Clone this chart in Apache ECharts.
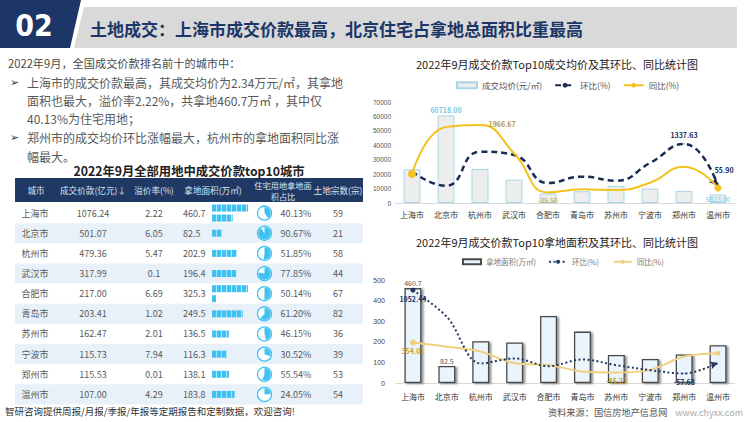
<!DOCTYPE html>
<html><head><meta charset="utf-8">
<script src="https://cdn.jsdelivr.net/npm/echarts/dist/echarts.min.js"></script>
<style>html,body{margin:0;padding:0;background:#fff;}#c{width:750px;height:422px;}</style>
</head><body><div id="c"></div>
<script>
// ---------- data ----------
const cities = ['上海市','北京市','杭州市','武汉市','合肥市','青岛市','苏州市','宁波市','郑州市','温州市'];
const dealAmount = ['1076.24','501.07','479.36','317.99','217.00','203.41','162.47','115.73','115.53','107.00'];
const premiumRate = ['2.22','6.05','5.47','0.1','6.69','1.02','2.01','7.94','0.01','4.29'];
const landArea = [460.7,82.5,202.9,196.4,325.3,249.5,136.5,116.3,138.1,183.8];
const residentialShare = [40.13,90.67,51.85,77.85,50.14,61.20,46.15,30.52,55.54,24.05];
const landCount = [59,21,58,44,67,82,36,39,53,54];
const avgPrice = [23361,60718,23625,16191,6671,8153,11903,9951,8366,5823];
const priceMoM = [491,60,1102,1001,146,339,217,757,1337.63,55.9];
const priceYoY = [513,1905,1966.67,1130,-35.5,59,39,255,730,98];
const areaMoM = [1052.44,697,76,143,40,129,53,-13,-57.68,84];
const areaYoY = [354.01,300,234,80,57,-32,-45.23,-9,168,213];
const tableHeaders = ['城市','成交价款(亿元)↓','溢价率(%)','拿地面积(万㎡)','住宅用地拿地面','土地宗数(宗)'];

const FONT = "'Noto Sans CJK SC','Noto Sans',sans-serif";
function T(x, y, text, size, color, align, weight, font) {
  return {type:'text', x:x, y:y, z:100, silent:true, style:{
    text:text, font:(weight||'normal')+' '+size+'px '+(font||FONT), fill:color,
    textAlign:align||'left', textVerticalAlign:'middle', align:align||'left', verticalAlign:'middle'
  }};
}
const fix2 = p => Number(p.value).toFixed(2);
function items(values, specs) {
  return values.map((v, i) => specs[i] ? Object.assign({value:v}, specs[i]) : v);
}

// ---------- static graphics ----------
const g = [];
g.push({type:'polygon', z:1, shape:{points:[[84,7],[737,7],[737,48],[74,48]]}, style:{fill:'#d9d9d9'}});
g.push({type:'polygon', z:2, shape:{points:[[0,0],[81,0],[70,48],[0,48]]}, style:{fill:'#1c3668'}});
g.push(T(34, 25, '02', 30, '#ffffff', 'center', 'bold', "'DejaVu Sans Condensed','Liberation Sans Narrow',sans-serif"));
g.push(T(90, 28, '土地成交：上海市成交价款最高，北京住宅占拿地总面积比重最高', 17, '#1c3668', 'left', 'bold'));

g.push(T(8, 63, '2022年9月，全国成交价款排名前十的城市中：', 11.2, '#4a4a4a'));
const bullets = [
  [82, '➢', '上海市的成交价款最高，其成交均价为2.34万元/㎡，其拿地'],
  [100, '', '面积也最大，溢价率2.22%，共拿地460.7万㎡ ，其中仅'],
  [118, '', '40.13%为住宅用地；'],
  [137, '➢', '郑州市的成交均价环比涨幅最大，杭州市的拿地面积同比涨'],
  [156, '', '幅最大。']
];
bullets.forEach(b => {
  if (b[1]) g.push(T(10, b[0], b[1], 11, '#333', 'left', 'normal', "'DejaVu Sans',sans-serif"));
  g.push(T(27, b[0], b[2], 12, '#595959'));
});
g.push(T(189, 170.5, '2022年9月全部用地中成交价款top10城市', 12.3, '#222', 'center', 'bold'));
g.push({type:'rect', z:5, shape:{x:15, y:178, width:348, height:24}, style:{fill:'#1f3864'}});
const hx = [36, 93, 154, 213, 283, 338];
tableHeaders.forEach((h, i) => g.push(T(hx[i], i === 4 ? 185 : 190, h, i === 4 ? 8.2 : 8.6, '#dce5f2', 'center')));
g.push(T(283, 195.5, '积占比', 8.2, '#dce5f2', 'center'));

g.push(T(557, 64, '2022年9月成交价款Top10成交均价及其环比、同比统计图', 11, '#222', 'center'));
g.push(T(557, 242, '2022年9月成交价款Top10拿地面积及其环比、同比统计图', 11, '#222', 'center'));
g.push(T(5, 411, '智研咨询提供周报/月报/季报/年报等定期报告和定制数据，欢迎咨询!', 9.5, '#333'));
g.push(T(548, 412, '资料来源：国信房地产信息网', 9.2, '#555'));
g.push(T(743, 412, 'www.chyxx.com', 9, '#aaa', 'right'));

// ---------- table custom series ----------
const rowData = cities.map((c, i) => [0, i]);
const tableBg = {
  type:'custom', xAxisIndex:2, yAxisIndex:5, z:1, silent:true, clip:false, data:rowData,
  encode:{x:0, y:1},
  renderItem: (params, api) => {
    const i = api.value(1);
    const yc = api.coord([0, i])[1];
    const h = api.size([0, 1])[1];
    return {type:'rect', shape:{x:15, y:yc - h/2, width:348, height:h}, style:{fill: i % 2 ? '#e8f1fa' : '#ffffff'}};
  }
};
const tableText = {
  type:'custom', xAxisIndex:2, yAxisIndex:5, z:3, silent:true, clip:false, data:rowData,
  encode:{x:0, y:1},
  renderItem: (params, api) => {
    const i = api.value(1);
    const yc = api.coord([0, i])[1];
    const mk = (x, t, al) => ({type:'text', style:{x:x, y:yc, text:String(t), font:'9px '+FONT, fill:'#595959',
      textAlign:al, textVerticalAlign:'middle', align:al, verticalAlign:'middle'}});
    return {type:'group', children:[
      mk(35, cities[i], 'center'),
      mk(93, dealAmount[i], 'center'),
      mk(154, premiumRate[i], 'center'),
      mk(183, landArea[i].toFixed(1), 'left'),
      mk(296, residentialShare[i].toFixed(2) + '%', 'center'),
      mk(338, landCount[i], 'center')
    ]};
  }
};
const tableBars = {
  type:'custom', xAxisIndex:2, yAxisIndex:5, z:4, silent:true, clip:false,
  data: landArea.map((v, i) => [v, i]), encode:{x:0, y:1},
  renderItem: (params, api) => {
    const v = api.value(0), i = api.value(1);
    const p0 = api.coord([0, i]);
    const unit = api.size([1, 0])[0];
    const cap = 292.7;
    const parts = v > cap ? [cap, v - cap] : [v];
    const ch = [];
    parts.forEach((pv, k) => {
      const w = pv * unit;
      const yc = parts.length > 1 ? p0[1] + (k === 0 ? -5 : 5) : p0[1];
      for (let sx = 0; sx < w - 0.2; sx += 5) {
        ch.push({type:'rect', shape:{x:p0[0] + sx, y:yc - 3.5, width:Math.min(4.4, w - sx), height:7}, style:{fill:'#3fc1f2'}});
      }
    });
    return {type:'group', children:ch};
  }
};
const tablePies = {
  type:'custom', xAxisIndex:2, yAxisIndex:5, z:4, silent:true, clip:false,
  data: residentialShare.map((v, i) => [v, i]), encode:{x:0, y:1},
  renderItem: (params, api) => {
    const v = api.value(0), i = api.value(1);
    const yc = api.coord([0, i])[1];
    const cx = 264.5;
    return {type:'group', children:[
      {type:'circle', shape:{cx:cx, cy:yc, r:7}, style:{fill:'#fff', stroke:'#3fc1f2', lineWidth:1.3}},
      {type:'sector', shape:{cx:cx, cy:yc, r:6.2, r0:0, startAngle:-Math.PI/2, endAngle:-Math.PI/2 + v/100*Math.PI*2, clockwise:true}, style:{fill:'#3fc1f2'}}
    ]};
  }
};

// ---------- chart series ----------
const lblTiny = (color, pos, extra) => Object.assign({show:true, position:pos, color:color, fontSize:7, fontWeight:'bold', fontFamily:FONT, formatter:fix2}, extra||{});
const hiddenSym = {symbol:'circle', symbolSize:1};

const option = {
  animation:false,
  graphic:{elements:g},
  legend:[
    {data:[{name:'成交均价(元/㎡)', icon:'rect'}, '环比(%)', '同比(%)'], left:456, top:81, padding:0,
     itemWidth:20, itemHeight:6, itemGap:12, textStyle:{fontSize:8.5, color:'#555', fontFamily:FONT}},
    {data:[{name:'拿地面积(万㎡)', icon:'rect'}, '环比(%) ', '同比(%) '], left:462, top:258, padding:0,
     itemWidth:18, itemHeight:5, itemGap:12, textStyle:{fontSize:7.5, color:'#777', fontFamily:FONT}}
  ],
  grid:[
    {left:395, top:102, width:340, height:101, outerBoundsMode:'none'},
    {left:396, top:280, width:339, height:103, outerBoundsMode:'none'},
    {left:212, top:203, width:36, height:201.5, outerBoundsMode:'none'}
  ],
  xAxis:[
    {gridIndex:0, type:'category', data:cities, axisTick:{show:false}, axisLine:{lineStyle:{color:'#d9d9d9'}},
     axisLabel:{interval:0, fontSize:8, color:'#333', margin:7, fontFamily:FONT}},
    {gridIndex:1, type:'category', data:cities, axisTick:{show:false}, axisLine:{lineStyle:{color:'#d9d9d9'}},
     axisLabel:{interval:0, fontSize:8, color:'#333', margin:9, fontFamily:FONT}},
    {gridIndex:2, type:'value', min:0, max:292.7, show:false}
  ],
  yAxis:[
    {gridIndex:0, type:'value', min:0, max:70000, interval:10000, splitLine:{show:false}, axisLine:{show:false}, axisTick:{show:false},
     axisLabel:{fontSize:6.5, color:'#555', margin:4, formatter:v => String(v)}},
    {gridIndex:0, type:'value', min:-347, max:2648, show:false, splitLine:{show:false}},
    {gridIndex:0, type:'value', min:-464, max:2615, show:false, splitLine:{show:false}},
    {gridIndex:1, type:'value', min:0, max:500, interval:100, splitLine:{show:false}, axisLine:{show:false}, axisTick:{show:false},
     axisLabel:{fontSize:7, color:'#444', margin:11, formatter:v => String(v)}},
    {gridIndex:1, type:'value', min:-184, max:1188, show:false, splitLine:{show:false}},
    {gridIndex:2, type:'category', data:cities, inverse:true, show:false}
  ],
  series:[
    {name:'成交均价(元/㎡)', type:'bar', xAxisIndex:0, yAxisIndex:0, barWidth:17, z:2,
     itemStyle:{color:'#ededed', borderColor:'#a9d6ea', borderWidth:1},
     data: items(avgPrice, {
       1:{label:lblTiny('#7fc6e0', 'top', {distance:2})},
       9:{label:lblTiny('#7fc6e0', 'inside', {fontWeight:'normal'})}
     })},
    {name:'环比(%)', type:'line', xAxisIndex:0, yAxisIndex:2, smooth:0.5, symbol:'none', z:3,
     lineStyle:{color:'#1b2d55', width:2.5, type:[6,4]}, itemStyle:{color:'#1b2d55'},
     data: items(priceMoM, {
       8:Object.assign({label:lblTiny('#1b2d55', 'top', {distance:5})}, hiddenSym),
       9:{symbol:'arrow', symbolSize:[7,9], symbolRotate:-140, label:lblTiny('#1b2d55', 'top', {offset:[9,0], distance:3})}
     })},
    {name:'同比(%)', type:'line', xAxisIndex:0, yAxisIndex:1, smooth:0.5, symbol:'none', z:4,
     lineStyle:{color:'#f3c21c', width:2}, itemStyle:{color:'#f3c21c'},
     data: items(priceYoY, {
       0:{symbol:'circle', symbolSize:8},
       2:Object.assign({label:lblTiny('#b8963e', 'right', {distance:8, offset:[0,-1]})}, hiddenSym),
       4:Object.assign({label:lblTiny('#b8963e', 'bottom', {distance:4, fontWeight:'normal'})}, hiddenSym),
       9:{symbol:'circle', symbolSize:7}
     })},
    {name:'拿地面积(万㎡)', type:'bar', xAxisIndex:1, yAxisIndex:3, barWidth:17, z:2,
     itemStyle:{color:'#eaf4fd', borderColor:'#4a4a4a', borderWidth:1.3, shadowColor:'rgba(0,0,0,0.45)', shadowBlur:2, shadowOffsetX:2, shadowOffsetY:1},
     data: items(landArea, {
       0:{label:{show:true, position:'top', distance:2, fontSize:7, color:'#555', fontFamily:FONT}},
       1:{label:{show:true, position:'top', distance:2, fontSize:7, color:'#555', fontFamily:FONT}}
     })},
    {name:'环比(%) ', type:'line', xAxisIndex:1, yAxisIndex:4, smooth:0.35, symbol:'none', z:4,
     lineStyle:{color:'#203864', width:2, type:[2,2.5]}, itemStyle:{color:'#203864'},
     data: items(areaMoM, {
       0:{symbol:'circle', symbolSize:5, label:lblTiny('#203864', 'bottom', {distance:3})},
       8:Object.assign({label:lblTiny('#203864', 'bottom', {distance:4})}, hiddenSym),
       9:{symbol:'arrow', symbolSize:[6,8], symbolRotate:-72}
     })},
    {name:'同比(%) ', type:'line', xAxisIndex:1, yAxisIndex:4, smooth:0.35, symbol:'none', z:3,
     lineStyle:{color:'#f0d07e', width:2}, itemStyle:{color:'#f0d07e'},
     data: items(areaYoY, {
       0:{symbol:'circle', symbolSize:6, label:lblTiny('#c9a227', 'bottom', {distance:2})},
       6:Object.assign({label:lblTiny('#c9a227', 'bottom', {distance:4})}, hiddenSym),
       9:{symbol:'circle', symbolSize:5}
     })},
    tableBg, tableText, tableBars, tablePies
  ]
};
const chart = echarts.init(document.getElementById('c'), null, {renderer:'svg'});
chart.setOption(option);
</script></body></html>
